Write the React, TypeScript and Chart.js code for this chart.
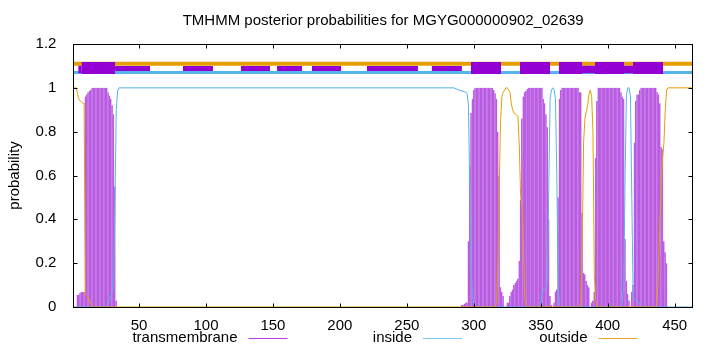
import React, { useEffect, useRef } from "react";
import { Chart, registerables } from "chart.js";

Chart.register(...registerables);

const TITLE = "TMHMM posterior probabilities for MGYG000000902_02639";
const Y_LABEL = "probability";
const X_MIN = 1;
const X_MAX = 463.7;
const Y_MIN = 0;
const Y_MAX = 1.2;
const X_TICKS = [50, 100, 150, 200, 250, 300, 350, 400, 450];
const Y_TICKS = [0, 0.2, 0.4, 0.6, 0.8, 1, 1.2];

const SERIES_NAMES = ["transmembrane", "inside", "outside"];

// transmembrane posterior probability, per residue, in runs starting at TM_STARTS
const TM_STARTS = [4, 291, 325, 360, 388, 418];
const TM_VALUES = [
  [0.055, 0.055, 0.065, 0.068, 0.068, 0.068, 0.96, 0.97, 0.98, 0.985, 0.99, 1, 1, 1, 1, 1, 1, 1, 1, 1, 1, 1, 1, 0.98, 0.965, 0.95, 0.92, 0.88, 0.55, 0.03],
  [0.01, 0.01, 0.015, 0.02, 0.02, 0.3, 0.64, 0.885, 0.95, 0.99, 1, 1, 1, 1, 1, 1, 1, 1, 1, 1, 1, 1, 1, 1, 0.99, 0.975, 0.95, 0.8, 0.6, 0.09, 0.07, 0.05],
  [0.02, 0.02, 0.05, 0.07, 0.08, 0.1, 0.11, 0.12, 0.13, 0.21, 0.49, 0.86, 0.96, 0.98, 0.985, 0.995, 1, 1, 1, 1, 1, 1, 1, 1, 1, 1, 1, 0.95, 0.93, 0.88, 0.82, 0.4, 0.05, 0.01],
  [0.02, 0.07, 0.08, 0.5, 0.95, 0.99, 1, 1, 1, 1, 1, 1, 1, 1, 1, 1, 1, 1, 1, 0.98, 0.98, 0.43, 0.155, 0.15, 0.12, 0.1, 0.09],
  [0.02, 0.03, 0.07, 0.68, 0.94, 1, 1, 1, 1, 1, 1, 1, 1, 1, 1, 1, 1, 1, 1, 1, 1, 1, 0.98, 0.96, 0.95, 0.31, 0.12, 0.06, 0.03],
  [0.07, 0.1, 0.75, 0.94, 0.97, 0.97, 0.99, 1, 1, 1, 1, 1, 1, 1, 1, 1, 1, 1, 1, 0.98, 0.97, 0.93, 0.73, 0.72, 0.3, 0.25, 0.2],
];

// inside posterior probability [residue, value]
const INSIDE_POINTS: [number, number][] = [
  [1, 0], [26, 0], [27, 0.015], [28, 0.03], [29, 0.05], [30, 0.07], [31, 0.12], [32, 0.45], [33, 0.9], [34, 0.985], [35, 1],
  [285, 1], [289, 0.99], [294, 0.98], [295, 0.975], [296, 0.92], [297, 0.55], [298, 0.2], [299, 0.05], [300, 0.01], [301, 0],
  [349, 0], [350, 0.02], [351, 0.05], [352, 0.08], [353, 0.08], [354, 0.09], [355, 0.12], [356, 0.55], [357, 0.95], [358, 0.99],
  [359, 1], [360, 0.99], [361, 0.95], [362, 0.6], [363, 0.1], [364, 0.01], [365, 0],
  [410, 0], [411, 0.03], [412, 0.1], [413, 0.6], [414, 0.97], [415, 1], [416, 1], [417, 0.96], [418, 0.5], [419, 0.05],
  [420, 0.035], [421, 0.03], [422, 0.03], [423, 0.025], [424, 0.01], [425, 0], [463, 0],
];

// outside posterior probability [residue, value]
const OUTSIDE_POINTS: [number, number][] = [
  [1, 1], [3, 1], [4, 0.975], [5, 0.95], [6, 0.94], [7, 0.935], [8, 0.93], [9, 0.93], [10, 0.055], [11, 0.05], [12, 0.045],
  [13, 0.03], [14, 0.01], [15, 0],
  [316, 0], [317, 0.02], [318, 0.2], [319, 0.55], [320, 0.85], [321, 0.96], [322, 0.98], [323, 0.99], [324, 1], [325, 1],
  [326, 0.99], [327, 0.98], [328, 0.93], [329, 0.9], [330, 0.885], [331, 0.88], [332, 0.875], [333, 0.87], [334, 0.73],
  [335, 0.5], [336, 0.47], [337, 0.3], [338, 0.05], [339, 0.01], [340, 0],
  [379, 0], [380, 0.02], [381, 0.3], [382, 0.75], [383, 0.86], [384, 0.89], [385, 0.92], [386, 0.97], [387, 0.99], [388, 0.96],
  [389, 0.8], [390, 0.15], [391, 0.03], [392, 0],
  [436, 0], [437, 0.03], [438, 0.2], [439, 0.4], [440, 0.55], [441, 0.68], [442, 0.75], [443, 0.9], [444, 0.99], [445, 1], [463, 1],
];

// predicted topology band at the top
const BAND_OUTSIDE_Y = 1.11;
const BAND_INSIDE_Y = 1.07;
const BAND_TM_Y = 1.09;
const BAND_MID_Y = 1.0835;
const BAND_THIN_Y = 1.088;
const BAND_THICK_START = [7.2, 297.9, 334.5, 363.6, 390.5, 418.9];
const BAND_THICK_END = [32.1, 320.3, 356.9, 380.8, 412.2, 441.3];
const BAND_MID_START = [4.7, 380.8, 412.2];
const BAND_MID_END = [7.2, 390.5, 418.9];
const BAND_THIN_START = [32.1, 82.8, 126.2, 153.1, 179.2, 220.2, 268.7];
const BAND_THIN_END = [58.2, 105.2, 147.8, 171.7, 200.9, 258.3, 291.1];

const PURPLE = "#9400d3";
const BLUE = "#56b4e9";
const ORANGE = "#e69f00";
const FONT = "'Liberation Sans', Arial, Helvetica, sans-serif";

function segments(starts: number[], ends: number[], y: number) {
  const out: { x: number; y: number | null }[] = [];
  starts.forEach((s, i) => {
    out.push({ x: s, y });
    out.push({ x: ends[i], y });
    out.push({ x: ends[i], y: null });
  });
  return out;
}

const decorPlugin = {
  id: "decor",
  afterDraw(chart: any) {
    const { ctx, chartArea: a, scales } = chart;
    const xs = scales.x;
    const ys = scales.y;
    const L = Math.round(a.left) + 0.5;
    const R = Math.round(a.right) - 0.5;
    const T = Math.round(a.top) + 0.5;
    const B = Math.round(a.bottom) + 0.5;
    ctx.save();
    ctx.strokeStyle = "#000";
    ctx.lineWidth = 1;
    ctx.beginPath();
    X_TICKS.forEach((v) => {
      const px = Math.round(xs.getPixelForValue(v)) + 0.5;
      ctx.moveTo(px, B);
      ctx.lineTo(px, B - 4);
      ctx.moveTo(px, T);
      ctx.lineTo(px, T + 4);
    });
    Y_TICKS.forEach((v) => {
      const py = Math.round(ys.getPixelForValue(v)) + 0.5;
      ctx.moveTo(L, py);
      ctx.lineTo(L + 4, py);
      ctx.moveTo(R, py);
      ctx.lineTo(R - 4, py);
    });
    ctx.stroke();
    ctx.strokeRect(L, T, R - L, B - T);

    ctx.fillStyle = "#000";
    ctx.font = `15px ${FONT}`;
    ctx.textAlign = "center";
    ctx.textBaseline = "middle";
    ctx.fillText(TITLE, (a.left + a.right) / 2, 21);

    // key
    const colors = ["#b040e0", "#7cc8f0", "#e8a830"];
    const lineStarts = [248.5, 423, 598.5];
    ctx.textAlign = "right";
    SERIES_NAMES.forEach((name, i) => {
      ctx.fillStyle = "#000";
      ctx.fillText(name, lineStarts[i] - 11, 338);
      ctx.strokeStyle = colors[i];
      ctx.beginPath();
      ctx.moveTo(lineStarts[i], 338.5);
      ctx.lineTo(lineStarts[i] + 39, 338.5);
      ctx.stroke();
    });
    ctx.restore();
  },
};

export default function App() {
  const ref = useRef<HTMLCanvasElement | null>(null);

  useEffect(() => {
    if (!ref.current) return;
    Chart.defaults.font.family = FONT;
    const tmData: { x: number; y: number }[] = [];
    TM_STARTS.forEach((s, r) => {
      TM_VALUES[r].forEach((v, i) => tmData.push({ x: s + i, y: v }));
    });

    const bandLine = (data: any, color: string, width: number) => ({
      type: "line" as const,
      data,
      borderColor: color,
      backgroundColor: color,
      borderWidth: width,
      borderCapStyle: "butt" as const,
      pointRadius: 0,
      spanGaps: false,
      tension: 0,
      clip: 0,
    });

    const chart = new Chart(ref.current, {
      type: "bar",
      data: {
        datasets: [
          bandLine(segments(BAND_THICK_START, BAND_THICK_END, BAND_TM_Y), PURPLE, 12),
          bandLine(segments(BAND_MID_START, BAND_MID_END, BAND_MID_Y), PURPLE, 7.5),
          bandLine(segments(BAND_THIN_START, BAND_THIN_END, BAND_THIN_Y), PURPLE, 5),
          {
            type: "line",
            label: SERIES_NAMES[2],
            data: OUTSIDE_POINTS.map(([x, y]) => ({ x, y })),
            borderColor: ORANGE,
            borderWidth: 1,
            pointRadius: 0,
            tension: 0,
          },
          {
            type: "line",
            label: SERIES_NAMES[1],
            data: INSIDE_POINTS.map(([x, y]) => ({ x, y })),
            borderColor: BLUE,
            borderWidth: 1,
            pointRadius: 0,
            tension: 0,
          },
          bandLine([{ x: X_MIN, y: BAND_OUTSIDE_Y }, { x: X_MAX, y: BAND_OUTSIDE_Y }], ORANGE, 4),
          bandLine([{ x: X_MIN, y: BAND_INSIDE_Y }, { x: X_MAX, y: BAND_INSIDE_Y }], BLUE, 3),
          {
            type: "bar",
            label: SERIES_NAMES[0],
            data: tmData,
            backgroundColor: "rgba(148,0,211,0.5)",
            borderColor: "rgba(148,0,211,0.45)",
            borderWidth: { left: 0.5, right: 0, top: 0, bottom: 0 },
            borderSkipped: false,
            barPercentage: 1,
            categoryPercentage: 1,
            grouped: false,
          },
        ] as any,
      },
      options: {
        responsive: false,
        animation: false,
        events: [],
        layout: { padding: { left: 0, top: 44, right: 27, bottom: 0 } },
        plugins: {
          legend: { display: false },
          title: { display: false },
          tooltip: { enabled: false },
        },
        scales: {
          x: {
            type: "linear",
            min: X_MIN,
            max: X_MAX,
            offset: false,
            grid: { display: false },
            border: { display: false },
            afterBuildTicks: (s: any) => {
              s.ticks = X_TICKS.map((v) => ({ value: v }));
            },
            afterFit: (s: any) => {
              s.height = 45;
            },
            ticks: {
              color: "#000",
              font: { size: 15, family: FONT },
              padding: 2,
              maxRotation: 0,
              autoSkip: false,
              callback: (v: any) => String(v),
            },
          },
          y: {
            type: "linear",
            min: Y_MIN,
            max: Y_MAX,
            grid: { display: false },
            border: { display: false },
            afterBuildTicks: (s: any) => {
              s.ticks = Y_TICKS.map((v) => ({ value: v }));
            },
            afterFit: (s: any) => {
              s.width = 73.4;
            },
            title: {
              display: true,
              text: Y_LABEL,
              color: "#000",
              font: { size: 15, family: FONT },
              padding: { top: 6, bottom: 0 },
            },
            ticks: {
              color: "#000",
              font: { size: 15, family: FONT },
              padding: 9,
              autoSkip: false,
              callback: (v: any) => String(Number(Number(v).toFixed(1))),
            },
          },
        },
      },
      plugins: [decorPlugin],
    });
    return () => chart.destroy();
  }, []);

  return (
    <div style={{ position: "absolute", left: 0, top: 0, width: 720, height: 352, background: "#fff" }}>
      <canvas ref={ref} width={720} height={352} style={{ display: "block" }} />
    </div>
  );
}
